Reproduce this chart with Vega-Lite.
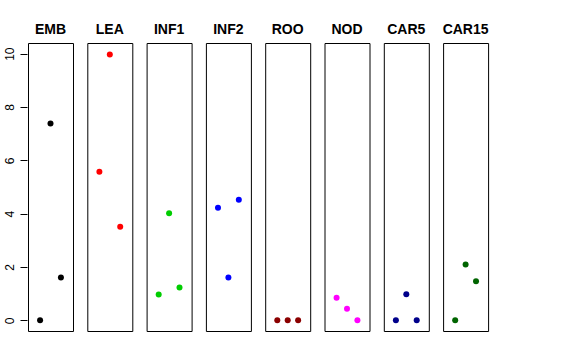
{
  "$schema": "https://vega.github.io/schema/vega-lite/v6.json",
  "padding": {"left": 2, "top": 23, "right": 5, "bottom": 5},
  "background": "white",
  "data": {"values": [
    {"panel": "EMB", "x": 1, "y": 0},
    {"panel": "EMB", "x": 2, "y": 7.38},
    {"panel": "EMB", "x": 3, "y": 1.61},
    {"panel": "LEA", "x": 1, "y": 5.57},
    {"panel": "LEA", "x": 2, "y": 9.97},
    {"panel": "LEA", "x": 3, "y": 3.51},
    {"panel": "INF1", "x": 1, "y": 0.97},
    {"panel": "INF1", "x": 2, "y": 4.02},
    {"panel": "INF1", "x": 3, "y": 1.23},
    {"panel": "INF2", "x": 1, "y": 4.22},
    {"panel": "INF2", "x": 2, "y": 1.61},
    {"panel": "INF2", "x": 3, "y": 4.52},
    {"panel": "ROO", "x": 1, "y": 0},
    {"panel": "ROO", "x": 2, "y": 0},
    {"panel": "ROO", "x": 3, "y": 0},
    {"panel": "NOD", "x": 1, "y": 0.85},
    {"panel": "NOD", "x": 2, "y": 0.43},
    {"panel": "NOD", "x": 3, "y": 0},
    {"panel": "CAR5", "x": 1, "y": 0},
    {"panel": "CAR5", "x": 2, "y": 0.98},
    {"panel": "CAR5", "x": 3, "y": 0},
    {"panel": "CAR15", "x": 1, "y": 0},
    {"panel": "CAR15", "x": 2, "y": 2.09},
    {"panel": "CAR15", "x": 3, "y": 1.47}
  ]},
  "facet": {
    "column": {
      "field": "panel",
      "type": "nominal",
      "sort": ["EMB", "LEA", "INF1", "INF2", "ROO", "NOD", "CAR5", "CAR15"],
      "header": {
        "title": null,
        "labelOrient": "top",
        "labelFont": "Liberation Sans",
        "labelFontSize": 14,
        "labelFontWeight": "bold",
        "labelColor": "black",
        "labelPadding": -6,
        "labelBaseline": "alphabetic"
      }
    }
  },
  "spacing": 12.3,
  "spec": {
    "width": 45,
    "height": 288,
    "mark": {"type": "circle", "size": 36, "opacity": 1},
    "encoding": {
      "x": {"field": "x", "type": "quantitative", "scale": {"domain": [-0.16, 4.16], "nice": false, "zero": false}, "axis": null},
      "y": {
        "field": "y", "type": "quantitative",
        "scale": {"domain": [-0.4, 10.4], "nice": false, "zero": false},
        "axis": {
          "title": null,
          "values": [0, 2, 4, 6, 8, 10],
          "grid": false,
          "domain": false,
          "tickSize": 7,
          "tickColor": "black",
          "labelAngle": 270,
          "labelAlign": "center",
          "labelBaseline": "alphabetic",
          "labelPadding": 7,
          "labelFont": "Liberation Sans",
          "labelFontSize": 12,
          "labelColor": "black",
          "labelFlush": false,
          "labelOverlap": false
        }
      },
      "color": {
        "field": "panel", "type": "nominal", "legend": null,
        "scale": {
          "domain": ["EMB", "LEA", "INF1", "INF2", "ROO", "NOD", "CAR5", "CAR15"],
          "range": ["#000000", "#FF0000", "#00CD00", "#0000FF", "#8B0000", "#FF00FF", "#00008B", "#006400"]
        }
      }
    }
  },
  "config": {
    "view": {"stroke": "black", "strokeWidth": 1}
  }
}
